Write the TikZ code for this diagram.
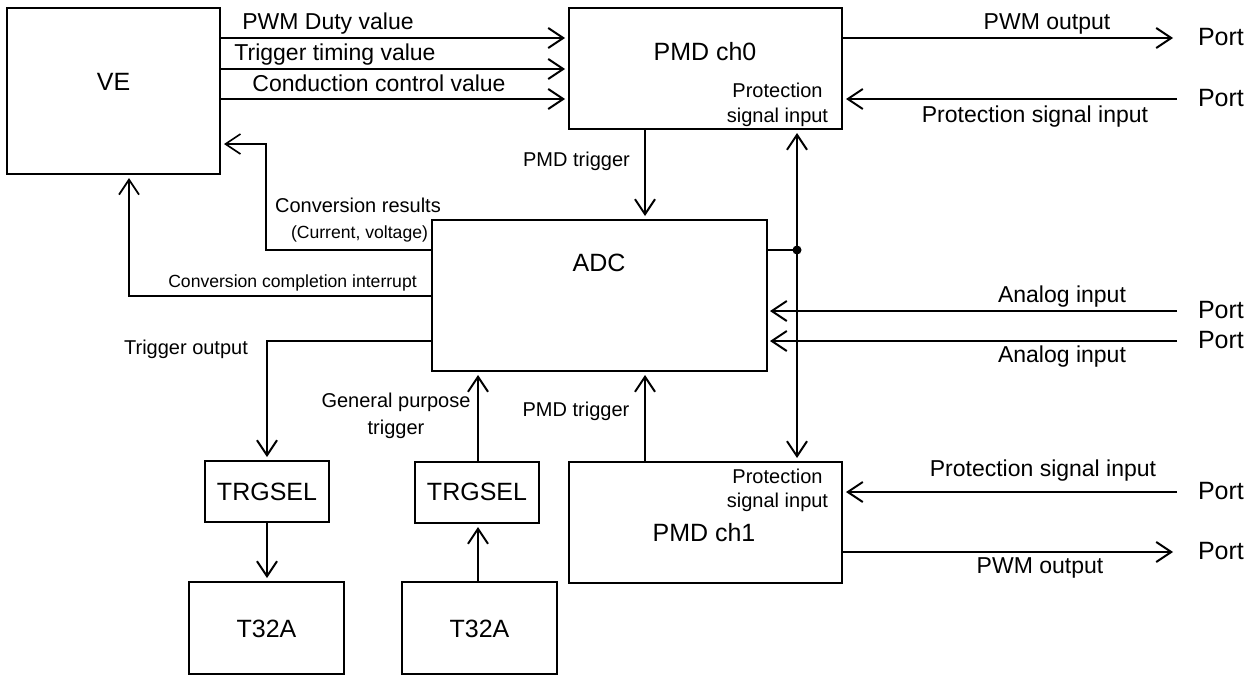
\documentclass[tikz,border=0pt]{standalone}
\usepackage{fontspec}
\setmainfont{Liberation Sans}
\usetikzlibrary{arrows.meta}
\begin{document}
\begin{tikzpicture}[x=1pt,y=-1pt,
  blk/.style={draw, line width=2pt, inner sep=0pt, outer sep=0pt},
  con/.style={line width=2pt},
  arr/.style={con, -{Straight Barb[length=15pt,width=20pt]}, shorten >=4pt},
  tA/.style={font=\fontsize{25}{30}\selectfont, inner sep=0pt, anchor=base},
  tB/.style={font=\fontsize{23}{28}\selectfont, inner sep=0pt, anchor=base},
  tC/.style={font=\fontsize{20}{24}\selectfont, inner sep=0pt, anchor=base},
  tD/.style={font=\fontsize{17.6}{21}\selectfont, inner sep=0pt, anchor=base},
  portlbl/.style={tA, anchor=base west, outer xsep=21pt},
]
\useasboundingbox (0,0) rectangle (1254,675);

% blocks
\node[blk, minimum width=213pt, minimum height=166pt] (VE)  at (113.5,91) {};
\node[blk, minimum width=273pt, minimum height=121pt] (ch0) at (705.5,68.5) {};
\node[blk, minimum width=335pt, minimum height=151pt] (ADC) at (599.5,295.5) {};
\node[blk, minimum width=273pt, minimum height=121pt] (ch1) at (705.5,522.5) {};
\node[blk, minimum width=124pt, minimum height=61pt]  (TS1) at (267,491.5) {};
\node[blk, minimum width=124pt, minimum height=61pt]  (TS2) at (477,492.5) {};
\node[blk, minimum width=155pt, minimum height=92pt]  (T1)  at (266.5,628) {};
\node[blk, minimum width=155pt, minimum height=92pt]  (T2)  at (479.5,628) {};

% block texts
\node[tA] (tVE)  at (113.5,90) {VE};
\node[tA] (tch0) at (705,60) {PMD ch0};
\node[tC] (tch0a) at (777.5,97) {Protection};
\node[tC] (tch0b) at (777.5,122) {signal input};
\node[tA] (tADC) at (599,271) {ADC};
\node[tA] (tch1) at (704,541) {PMD ch1};
\node[tC] (tch1a) at (777.5,483) {Protection};
\node[tC] (tch1b) at (777.5,507) {signal input};
\node[tA] (tTS1) at (267,500) {TRGSEL};
\node[tA] (tTS2) at (477,500) {TRGSEL};
\node[tA] (tT1)  at (266.5,637) {T32A};
\node[tA] (tT2)  at (479.5,637) {T32A};

% ports
\node[portlbl] (P1) at (1177,45)  {Port};
\node[portlbl] (P2) at (1177,106) {Port};
\node[portlbl] (P3) at (1177,318) {Port};
\node[portlbl] (P4) at (1177,348) {Port};
\node[portlbl] (P5) at (1177,499) {Port};
\node[portlbl] (P6) at (1177,559) {Port};

% labels
\node[tB] (lduty) at (328,29) {PWM Duty value};
\node[tB] (ltrig) at (335,60) {Trigger timing value};
\node[tB] (lcond) at (379,91) {Conduction control value};
\node[tB] (lpwm0) at (1047,29) {PWM output};
\node[tB] (lprot0) at (1035,122) {Protection signal input};
\node[tB] (lana1) at (1062,302) {Analog input};
\node[tB] (lana2) at (1062,362) {Analog input};
\node[tB] (lprot1) at (1043,476) {Protection signal input};
\node[tB] (lpwm1) at (1040,573) {PWM output};
\node[tC] (lpmdt0) at (576.5,166) {PMD trigger};
\node[tC] (lpmdt1) at (576,416) {PMD trigger};
\node[tC] (lconv) at (358,212) {Conversion results};
\node[tD] (lcurr) at (359.5,238) {(Current, voltage)};
\node[tD] (lcci) at (292.5,287) {Conversion completion interrupt};
\node[tC] (ltout) at (186,354) {Trigger output};
\node[tC] (lgp1) at (396,407) {General purpose};
\node[tC] (lgp2) at (396,434) {trigger};

% VE -> PMD ch0
\draw[arr] (VE.east |- 0,38) -- (ch0.west |- 0,38);
\draw[arr] (VE.east |- 0,69) -- (ch0.west |- 0,69);
\draw[arr] (VE.east |- 0,99) -- (ch0.west |- 0,99);

% PMD ch0 <-> ports
\draw[arr] (ch0.east |- 0,38) -- (P1.west |- 0,38);
\draw[arr] (P2.west |- 0,99) -- (ch0.east |- 0,99);

% PMD ch0 -> ADC
\draw[arr] (645,0 |- ch0.south) -- (645,0 |- ADC.north);

% ADC -> VE
\draw[arr, line width=1.6pt] (ADC.west |- 0,250) -- (266,250) -- (266,144) -- (VE.east |- 0,144);
\draw[arr, line width=1.8pt] (ADC.west |- 0,296) -- (129,296) -- (129,0 |- VE.south);

% trigger output
\draw[arr] (ADC.west |- 0,341) -- (267,341) -- (TS1.north);
\draw[arr] (TS1.south) -- (TS1.south |- T1.north);
\draw[arr] (478,0 |- T2.north) -- (478,0 |- TS2.south);
\draw[arr] (478,0 |- TS2.north) -- (478,0 |- ADC.south);
\draw[arr] (645,0 |- ch1.north) -- (645,0 |- ADC.south);

% protection junction
\coordinate (J) at (797,250);
\draw[con] (ADC.east |- J) -- (J);
\fill (J) circle (4.5pt);
\draw[arr] (J) -- (J |- ch0.south);
\draw[arr] (J) -- (J |- ch1.north);

% analog inputs
\draw[arr, shorten >=3pt] (P3.west |- 0,311) -- (ADC.east |- 0,311);
\draw[arr, shorten >=3pt] (P4.west |- 0,341) -- (ADC.east |- 0,341);

% PMD ch1 <-> ports
\draw[arr] (P5.west |- 0,492) -- (ch1.east |- 0,492);
\draw[arr] (ch1.east |- 0,552) -- (P6.west |- 0,552);
\end{tikzpicture}
\end{document}
